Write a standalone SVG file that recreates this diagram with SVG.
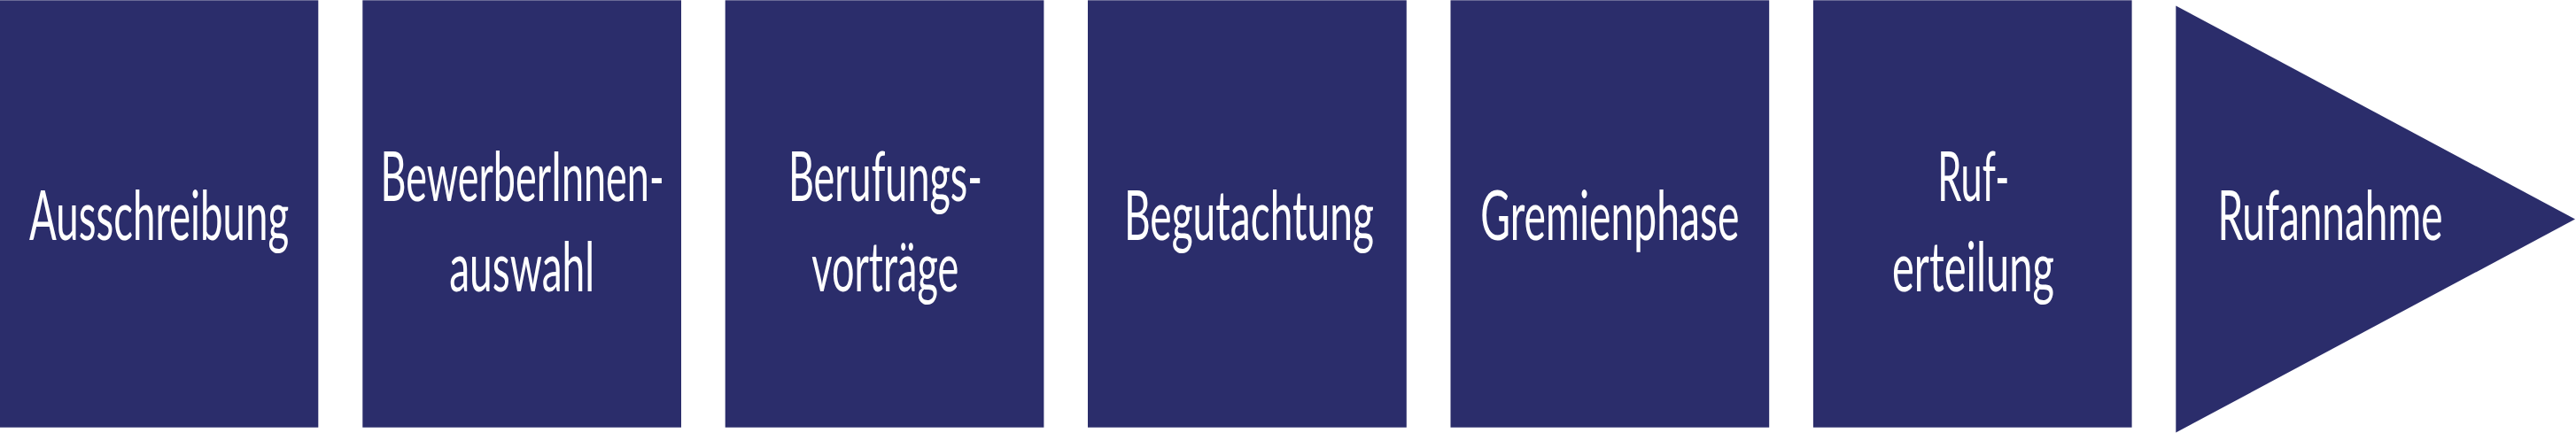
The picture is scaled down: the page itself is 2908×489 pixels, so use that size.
<svg xmlns="http://www.w3.org/2000/svg" width="2908" height="489" viewBox="0 0 2908 489">
<style>
.box{fill:#2B2D6B}
.t{fill:#FFFFFF;font-family:Lato,"Open Sans","Liberation Sans",sans-serif;font-size:48px;text-anchor:middle}
</style>
<rect width="2908" height="489" fill="#FFFFFF"/>
<g id="connectors"></g>
<g id="n1">
<rect class="box" x="0" y="0.3" width="359.3" height="482.4"/>
<text class="t" transform="scale(1,1.604)" x="179.6" y="168.95" textLength="293" lengthAdjust="spacingAndGlyphs">Ausschreibung</text>
</g>
<g id="n2">
<rect class="box" x="409.3" y="0.3" width="359.7" height="482.4"/>
<text class="t" transform="scale(1,1.604)" x="589.6" y="141.52" textLength="320" lengthAdjust="spacingAndGlyphs">BewerberInnen-</text>
<text class="t" transform="scale(1,1.604)" x="589.2" y="205.11" textLength="164" lengthAdjust="spacingAndGlyphs">auswahl</text>
</g>
<g id="n3">
<rect class="box" x="818.7" y="0.3" width="359.7" height="482.4"/>
<text class="t" transform="scale(1,1.604)" x="999.4" y="141.52" textLength="219" lengthAdjust="spacingAndGlyphs">Berufungs-</text>
<text class="t" transform="scale(1,1.604)" x="999.3" y="205.11" textLength="166" lengthAdjust="spacingAndGlyphs">vorträge</text>
</g>
<g id="n4">
<rect class="box" x="1228" y="0.3" width="359.8" height="482.4"/>
<text class="t" transform="scale(1,1.604)" x="1409.9" y="168.95" textLength="282" lengthAdjust="spacingAndGlyphs">Begutachtung</text>
</g>
<g id="n5">
<rect class="box" x="1637.5" y="0.3" width="359.7" height="482.4"/>
<text class="t" transform="scale(1,1.604)" x="1817.3" y="168.95" textLength="292" lengthAdjust="spacingAndGlyphs">Gremienphase</text>
</g>
<g id="n6">
<rect class="box" x="2046.9" y="0.3" width="359.7" height="482.4"/>
<text class="t" transform="scale(1,1.604)" x="2227.8" y="141.52" textLength="81" lengthAdjust="spacingAndGlyphs">Ruf-</text>
<text class="t" transform="scale(1,1.604)" x="2227.5" y="205.11" textLength="183" lengthAdjust="spacingAndGlyphs">erteilung</text>
</g>
<g id="n7">
<polygon class="box" points="2456.3,6.5 2907,247.5 2456.3,488.5"/>
<text class="t" transform="scale(1,1.604)" x="2630.5" y="168.95" textLength="254" lengthAdjust="spacingAndGlyphs">Rufannahme</text>
</g>
</svg>
